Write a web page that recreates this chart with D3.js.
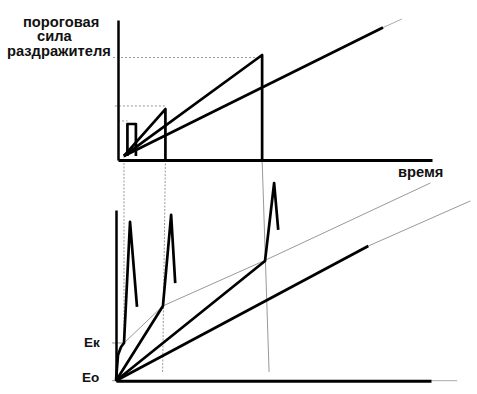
<!DOCTYPE html>
<html>
<head>
<meta charset="utf-8">
<script src="https://cdn.jsdelivr.net/npm/d3@7"></script>
<style>
  body { margin: 0; background: #fff; }
  svg { display: block; }
  text { font-family: Arial, "Liberation Sans", sans-serif; font-weight: bold; fill: #111; }
</style>
</head>
<body>
<div id="chart"></div>
<script>
// ---- top panel: threshold stimulus strength vs duration (t, strength) ----
var rectPulse = [[3.0, 2.9], [3.0, 25.7], [5.7, 25.7], [5.7, 2.9]];
var rampShort = [[1.9, 2.9], [15.1, 36.4], [15.1, 0]];
var rampMid = [[1.9, 2.9], [45.9, 75.0], [45.9, 0]];
var rampLong = [[1.9, 2.9], [84.4, 94.6]];
var rampLongExt = [[84.4, 94.6], [90.4, 100.7]];
// dotted threshold levels: [level, t start, t end]
var levels = [[27.9, 0, 3.0], [38.6, -1.0, 15.1], [73.2, -1.6, 45.9]];

// ---- bottom panel: membrane potential (t, E) ----
var resp1 = [[0, 0], [0.64, 15.1], [1.59, 19.7], [2.54, 22.1], [4.45, 93.0], [6.67, 43.2]];
var resp2 = [[0, 0], [14.9, 43.8], [17.5, 97.1], [18.8, 57.2]];
var resp3 = [[0, 0], [47.3, 70.1], [50.2, 115.8], [51.5, 88.3]];
var resp4 = [[0, 0], [80.1, 78.9]];
var resp4Ext = [[80.1, 78.9], [112.5, 105.3]];
var critical = [[2.54, 22.1], [14.9, 43.8], [47.3, 70.5], [99.8, 115.8]];
var axisExt = [[100, 0], [108.3, 0]];
var levelE = [["Ек", 22.1, 2.54], ["Eо", 0, 0]];

// guides top -> bottom: [t top, strength top, t bottom, E bottom]
var guides = [[1.9, 2.9, 2.54, 22.1], [15.1, 0, 14.8, 4.5], [45.9, 0, 48.6, 5.1]];

var titleLines = ["пороговая", "сила", "раздражителя"];
var xLabel = "время";

var width = 477, height = 394;

var svg = d3.select("#chart").append("svg")
    .attr("width", width)
    .attr("height", height);

var xTop = d3.scaleLinear().domain([0, 100]).range([118, 432]);
var yTop = d3.scaleLinear().domain([0, 100]).range([160, 20]);
var xBot = d3.scaleLinear().domain([0, 100]).range([116, 431]);
var yBot = d3.scaleLinear().domain([0, 100]).range([380.7, 210]);

var lineTop = d3.line().x(d => xTop(d[0])).y(d => yTop(d[1]));
var lineBot = d3.line().x(d => xBot(d[0])).y(d => yBot(d[1]));

// guides (drawn first, under everything)
svg.append("g").selectAll("line")
    .data(guides)
    .enter().append("line")
    .attr("x1", d => xTop(d[0]))
    .attr("y1", d => yTop(d[1]))
    .attr("x2", d => xBot(d[2]))
    .attr("y2", d => yBot(d[3]))
    .attr("stroke", "#999")
    .attr("stroke-width", 1)
    .attr("stroke-dasharray", (d, i) => i == 2 ? null : "2,1.5");

// dotted threshold levels
svg.append("g").selectAll("line")
    .data(levels)
    .enter().append("line")
    .attr("x1", d => xTop(d[1]))
    .attr("x2", d => xTop(d[2]))
    .attr("y1", d => yTop(d[0]))
    .attr("y2", d => yTop(d[0]))
    .attr("stroke", "#999")
    .attr("stroke-width", 1)
    .attr("stroke-dasharray", "2,2");

// thin grey extensions
svg.append("path").datum(rampLongExt).attr("d", lineTop)
    .attr("fill", "none").attr("stroke", "#aaa").attr("stroke-width", 1);
svg.append("path").datum(resp4Ext).attr("d", lineBot)
    .attr("fill", "none").attr("stroke", "#999").attr("stroke-width", 1);
svg.append("path").datum(critical).attr("d", lineBot)
    .attr("fill", "none").attr("stroke", "#999").attr("stroke-width", 1);
svg.append("path").datum(axisExt).attr("d", lineBot)
    .attr("fill", "none").attr("stroke", "#aaa").attr("stroke-width", 1);

// E level ticks
svg.append("g").selectAll("line")
    .data(levelE)
    .enter().append("line")
    .attr("x1", xBot(-1.3))
    .attr("x2", d => xBot(d[2]))
    .attr("y1", d => yBot(d[1]))
    .attr("y2", d => yBot(d[1]))
    .attr("stroke", "#999")
    .attr("stroke-width", 1);

// axes
function styleAxis(g, w) {
    g.select(".domain").attr("stroke", "#000").attr("stroke-width", w);
}
svg.append("g").attr("transform", "translate(0," + yTop(0) + ")")
    .call(d3.axisBottom(xTop).ticks(0).tickSizeOuter(0))
    .call(g => styleAxis(g, 3));
svg.append("g").attr("transform", "translate(" + xTop(0) + ",0)")
    .call(d3.axisLeft(yTop).ticks(0).tickSizeOuter(0))
    .call(g => styleAxis(g, 2.5));
svg.append("g").attr("transform", "translate(0," + yBot(0) + ")")
    .call(d3.axisBottom(xBot).ticks(0).tickSizeOuter(0))
    .call(g => styleAxis(g, 3));
svg.append("g").attr("transform", "translate(" + xBot(0) + ",0)")
    .call(d3.axisLeft(yBot).ticks(0).tickSizeOuter(0))
    .call(g => styleAxis(g, 2.5));

// thick marks
svg.append("g").selectAll("path")
    .data([rectPulse, rampShort, rampMid, rampLong])
    .enter().append("path")
    .attr("d", lineTop)
    .attr("fill", "none")
    .attr("stroke", "#000")
    .attr("stroke-width", 2.7)
    .attr("stroke-linejoin", "round");

svg.append("g").selectAll("path")
    .data([resp1, resp2, resp3, resp4])
    .enter().append("path")
    .attr("d", lineBot)
    .attr("fill", "none")
    .attr("stroke", "#000")
    .attr("stroke-width", 2.7)
    .attr("stroke-linejoin", "round");

// texts
var titleX = [23, 37, 7];
svg.append("g").selectAll("text")
    .data(titleLines)
    .enter().append("text")
    .attr("x", (d, i) => titleX[i])
    .attr("y", (d, i) => 26.5 + i * 14.5)
    .attr("font-size", 14.7)
    .text(d => d);

svg.append("text")
    .attr("x", 398)
    .attr("y", 177)
    .attr("font-size", 14.7)
    .text(xLabel);

svg.append("g").selectAll("text")
    .data(levelE)
    .enter().append("text")
    .attr("x", (d, i) => i == 0 ? 84 : 82)
    .attr("y", d => yBot(d[1]) + (d[1] > 0 ? 4.5 : 1))
    .attr("font-size", 13.5)
    .text(d => d[0]);
</script>
</body>
</html>
